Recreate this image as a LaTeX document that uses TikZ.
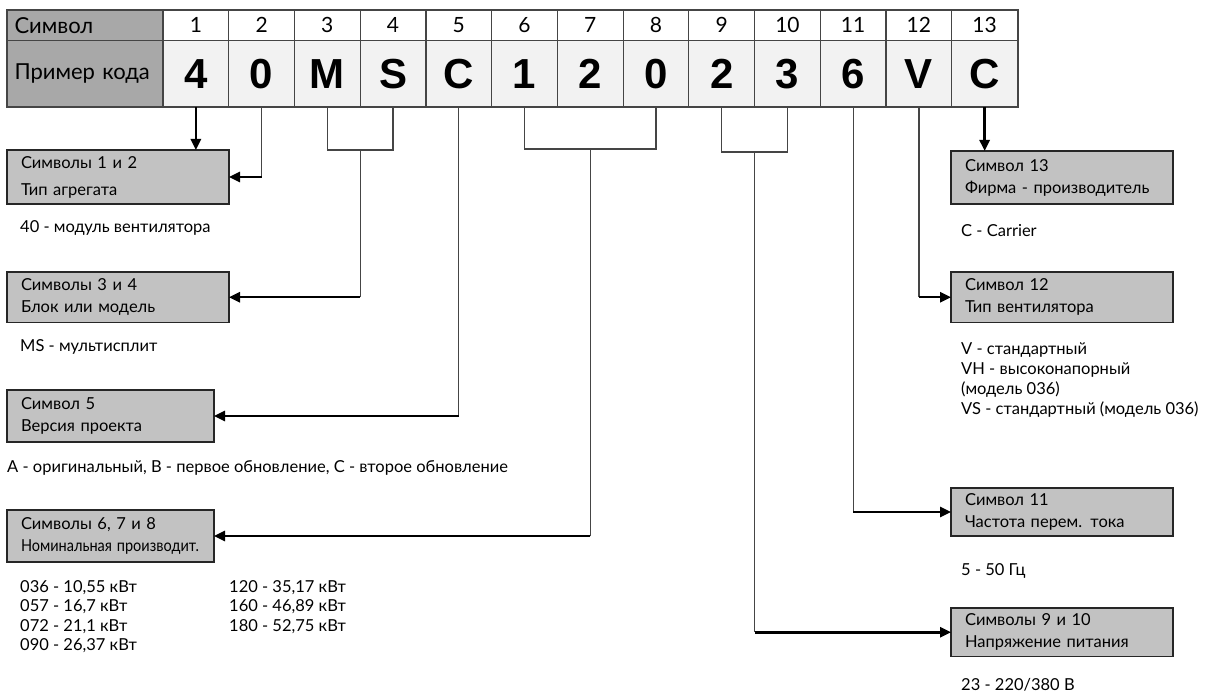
\documentclass[tikz,border=0pt]{standalone}
\usepackage{fontspec}
\usepackage{graphicx}
\setmainfont{Lato}
\newfontfamily\codefont{Liberation Sans}
\usetikzlibrary{arrows.meta,calc}
\definecolor{hdrgray}{HTML}{A8A8A8}
\definecolor{cellgray}{HTML}{F2F2F2}
\definecolor{boxgray}{HTML}{C2C2C2}
\definecolor{linegray}{HTML}{454545}
\begin{document}
\begin{tikzpicture}[x=1pt,y=-1pt,
  hdrcell/.style={draw=linegray,line width=1.2pt,fill=hdrgray,minimum width=156pt,inner sep=0pt,outer sep=0pt,font=\fontsize{22}{26}\selectfont},
  numcell/.style={draw=linegray,line width=1.2pt,fill=white,minimum width=65.73pt,minimum height=30.5pt,inner sep=0pt,outer sep=0pt,font=\fontsize{21}{24}\selectfont},
  codecell/.style={draw=linegray,line width=1.2pt,fill=cellgray,minimum width=65.73pt,minimum height=66.5pt,inner sep=0pt,outer sep=0pt,font=\codefont\bfseries\fontsize{42}{44}\selectfont},
  infobox/.style={draw=black!85,line width=1.3pt,fill=boxgray,anchor=north west,inner xsep=14pt,inner ysep=0pt,outer sep=0pt,align=left,font=\fontsize{16.5}{22}\selectfont},
  desc/.style={anchor=mid west,inner sep=0pt,font=\fontsize{16.5}{20}\selectfont},
  thin/.style={draw=linegray,line width=1.2pt},
  thick/.style={draw=black,line width=2.5pt,-{Triangle[length=11pt,width=10pt]}}]
\useasboundingbox (0,0) rectangle (1207,700);
% table
\node[hdrcell,minimum height=30.5pt,anchor=north west,text width=141pt,inner xsep=7.5pt,align=left] (h1) at (7,10) {Символ};
\node[hdrcell,minimum height=66.5pt,anchor=north west,text width=141pt,inner xsep=7.5pt,align=left] (h2) at (7,40.5) {Пример кода};
\foreach \i/\t in {1/4,2/0,3/M,4/S,5/C,6/1,7/2,8/0,9/2,10/3,11/6,12/V,13/C}{
  \node[numcell] (n\i) at ({163+65.73*(\i-0.5)},25.25) {\i};
  \node[codecell] (c\i) at ({163+65.73*(\i-0.5)},73.75) {\t};
}
\draw[draw=linegray,line width=2pt] (h1.north west) rectangle (c13.south east);
% left boxes
\node[infobox,text width=194pt,minimum height=54pt,font=\fontsize{16.5}{27}\selectfont] (b12) at (7,150) {Символы 1 и 2\\Тип агрегата};
\node[infobox,text width=194pt,minimum height=50.5pt] (b34) at (7,272) {Символы 3 и 4\\Блок или модель};
\node[infobox,text width=179pt,minimum height=52pt] (b5) at (7,390) {Символ 5\\Версия проекта};
\node[infobox,text width=179pt,minimum height=52pt] (b68) at (7,510) {Символы 6, 7 и 8\\\scalebox{0.88}[1]{Номинальная производит.}};
% right boxes
\node[infobox,text width=194pt,minimum height=53pt] (b13) at (951,151) {Символ 13\\Фирма - производитель};
\node[infobox,text width=194pt,minimum height=50.5pt] (b12r) at (951,272) {Символ 12\\Тип вентилятора};
\node[infobox,text width=194pt,minimum height=48pt] (b11) at (951,488) {Символ 11\\Частота перем. тока};
\node[infobox,text width=194pt,minimum height=48.5pt] (b910) at (951,608) {Символы 9 и 10\\Напряжение питания};
% descriptions
\node[desc] (d12) at (20,230) {40 - модуль вентилятора};
\node[desc] (d34) at (20,349) {MS - мультисплит};
\node[desc] (d5) at (7,470) {A - оригинальный, B - первое обновление, C - второе обновление};
\node[desc] (d68a) at (20,590) {036 - 10,55 кВт};
\node[desc] (d68b) at (20,609) {057 - 16,7 кВт};
\node[desc] (d68c) at (20,629) {072 - 21,1 кВт};
\node[desc] (d68d) at (20,648) {090 - 26,37 кВт};
\node[desc] (d68e) at (229,590) {120 - 35,17 кВт};
\node[desc] (d68f) at (229,609) {160 - 46,89 кВт};
\node[desc] (d68g) at (229,629) {180 - 52,75 кВт};
\node[desc] (d13) at (961,234) {C - Carrier};
\node[desc] (d12a) at (961,352) {V - стандартный};
\node[desc] (d12b) at (961,372) {VH - высоконапорный};
\node[desc] (d12c) at (961,392) {(модель 036)};
\node[desc] (d12d) at (961,412) {VS - стандартный (модель 036)};
\node[desc] (d11) at (961,573) {5 - 50 Гц};
\node[desc] (d910) at (961,688) {23 - 220/380 В};
% helper levels
\coordinate (lvA) at (0,150);
\coordinate (lvB) at (0,149);
\coordinate (lvC) at (0,152);
% connectors
\draw[thick] (c1.south) -- (c1.south |- b12.north);
\draw[thin] (c2.south) -- (c2.south |- b12.east);
\draw[thick] (c2.south |- b12.east) -- (b12.east);
\draw[thin] (c3.south) -- (c3.south |- lvA) -- (c4.south |- lvA) -- (c4.south);
\coordinate (m34) at ($(c3.south |- lvA)!0.5!(c4.south |- lvA)$);
\draw[thin] (m34) -- (m34 |- b34.east);
\draw[thick] (m34 |- b34.east) -- (b34.east);
\draw[thin] (c5.south) -- (c5.south |- b5.east);
\draw[thick] (c5.south |- b5.east) -- (b5.east);
\draw[thin] (c6.south) -- (c6.south |- lvB) -- (c8.south |- lvB) -- (c8.south);
\coordinate (m68) at ($(c6.south |- lvB)!0.5!(c8.south |- lvB)$);
\draw[thin] (m68) -- (m68 |- b68.east);
\draw[thick] (m68 |- b68.east) -- (b68.east);
\draw[thin] (c9.south) -- (c9.south |- lvC) -- (c10.south |- lvC) -- (c10.south);
\coordinate (m910) at ($(c9.south |- lvC)!0.5!(c10.south |- lvC)$);
\draw[thin] (m910) -- (m910 |- b910.west);
\draw[thick] (m910 |- b910.west) -- (b910.west);
\draw[thin] (c11.south) -- (c11.south |- b11.west);
\draw[thick] (c11.south |- b11.west) -- (b11.west);
\draw[thin] (c12.south) -- (c12.south |- b12r.west);
\draw[thick] (c12.south |- b12r.west) -- (b12r.west);
\draw[thick] (c13.south) -- (b13.north -| c13.south);
\end{tikzpicture}
\end{document}
